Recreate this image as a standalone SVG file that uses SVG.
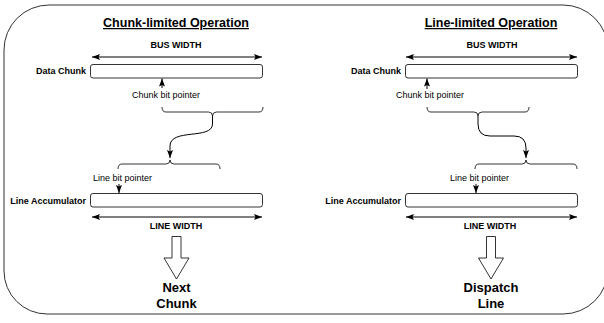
<svg xmlns="http://www.w3.org/2000/svg" width="604" height="323" viewBox="0 0 604 323">
<defs>
<marker id="ah" viewBox="0 0 8 6" refX="8" refY="3" markerWidth="8" markerHeight="6" markerUnits="userSpaceOnUse" orient="auto-start-reverse">
<path d="M0,0 L8,3 L0,6 L1.5,3 z" fill="#000"/>
</marker>
<style>
.t{font-family:"Liberation Sans",Arial,sans-serif;fill:#000}
.title{font-size:12.5px;font-weight:bold;text-decoration:underline}
.lb{font-size:9px;font-weight:bold}
.lr{font-size:9px}
.big{font-size:13px;font-weight:bold}
.ln{fill:none;stroke:#000;stroke-width:1}
.box{fill:#fff;stroke:#000;stroke-width:0.8}
.br{fill:none;stroke:#000;stroke-width:0.8}
.blk{fill:#fff;stroke:#000;stroke-width:0.8}
</style>
</defs>
<rect width="604" height="323" fill="#fff"/>
<path id="frame" d="M4,50 A45,45 0 0 1 49,5 L563,5 A45,45 0 0 1 608,50 L608,269 A45,45 0 0 1 563,314 L47,314 A43,43 0 0 1 4,271 Z" fill="none" stroke="#333" stroke-width="1"/>

<g id="left">
<text class="t title" x="176" y="27" text-anchor="middle">Chunk-limited Operation</text>
<text class="t lb" x="176" y="48" text-anchor="middle">BUS WIDTH</text>
<g id="l-datachunk">
<text class="t lb" x="86" y="74" text-anchor="end">Data Chunk</text>
<rect class="box" x="90.5" y="64.5" width="172" height="13.5" rx="2.5"/>
</g>
<text class="t lr" x="132" y="98">Chunk bit pointer</text>
<path id="l-upbrace" class="br" d="M162,107 Q162,112 166,112 L208.5,112 Q212.5,112 212.5,116 Q212.5,112 216.5,112 L259,112 Q263,112 263,107"/>
<path id="l-lowbrace" class="br" d="M118,169 Q118,164 122,164 L166,164 Q170,164 170,160 Q170,164 174,164 L216,164 Q220,164 220,169"/>
<text class="t lr" x="93" y="181">Line bit pointer</text>
<g id="l-lineacc">
<text class="t lb" x="86" y="204" text-anchor="end">Line Accumulator</text>
<rect class="box" x="90.5" y="193.5" width="172" height="13.5" rx="2.5"/>
</g>
<text class="t lb" x="176" y="229" text-anchor="middle">LINE WIDTH</text>
<path id="l-blockarrow" class="blk" d="M172,236.5 L181,236.5 L181,258 L189,258 L176.5,279 L164,258 L172,258 Z"/>
<text class="t big" x="176.5" y="292" text-anchor="middle">Next</text>
<text class="t big" x="176.5" y="308" text-anchor="middle">Chunk</text>
</g>

<g id="right">
<text class="t title" x="491" y="27" text-anchor="middle">Line-limited Operation</text>
<text class="t lb" x="492" y="48" text-anchor="middle">BUS WIDTH</text>
<g id="r-datachunk">
<text class="t lb" x="401" y="74" text-anchor="end">Data Chunk</text>
<rect class="box" x="405.5" y="64.5" width="172" height="13.5" rx="2.5"/>
</g>
<text class="t lr" x="396" y="98">Chunk bit pointer</text>
<path id="r-upbrace" class="br" d="M427,107 Q427,112 431,112 L474,112 Q478,112 478,116 Q478,112 482,112 L525,112 Q529,112 529,107"/>
<path id="r-lowbrace" class="br" d="M475,169 Q475,164 479,164 L522,164 Q526,164 526,160 Q526,164 530,164 L573,164 Q577,164 577,169"/>
<text class="t lr" x="450" y="181">Line bit pointer</text>
<g id="r-lineacc">
<text class="t lb" x="401" y="204" text-anchor="end">Line Accumulator</text>
<rect class="box" x="405.5" y="193.5" width="172" height="13.5" rx="2.5"/>
</g>
<text class="t lb" x="490" y="229" text-anchor="middle">LINE WIDTH</text>
<path id="r-blockarrow" class="blk" d="M486.5,236.5 L495.5,236.5 L495.5,258 L503.5,258 L491,279 L478.5,258 L486.5,258 Z"/>
<text class="t big" x="491" y="292" text-anchor="middle">Dispatch</text>
<text class="t big" x="491" y="308" text-anchor="middle">Line</text>
</g>

<g id="connectors">
<path class="ln" d="M92,57 L262,57" marker-start="url(#ah)" marker-end="url(#ah)"/>
<path class="ln" d="M162,88 L162,78.5" marker-end="url(#ah)"/>
<path class="ln" d="M212.5,116 L212.5,124 C212.5,140 170,128 170,146 L170,158" marker-end="url(#ah)"/>
<path class="ln" d="M119,184 L119,193" marker-end="url(#ah)"/>
<path class="ln" d="M92,217 L262,217" marker-start="url(#ah)" marker-end="url(#ah)"/>

<path class="ln" d="M406,57 L577,57" marker-start="url(#ah)" marker-end="url(#ah)"/>
<path class="ln" d="M427,89 L427,78.5" marker-end="url(#ah)"/>
<path class="ln" d="M478,116 L478,124 Q478,136 490,136 L514,136 Q526,136 526,148 L526,158" marker-end="url(#ah)"/>
<path class="ln" d="M476,184 L476,193" marker-end="url(#ah)"/>
<path class="ln" d="M406,217 L577,217" marker-start="url(#ah)" marker-end="url(#ah)"/>
</g>
</svg>
